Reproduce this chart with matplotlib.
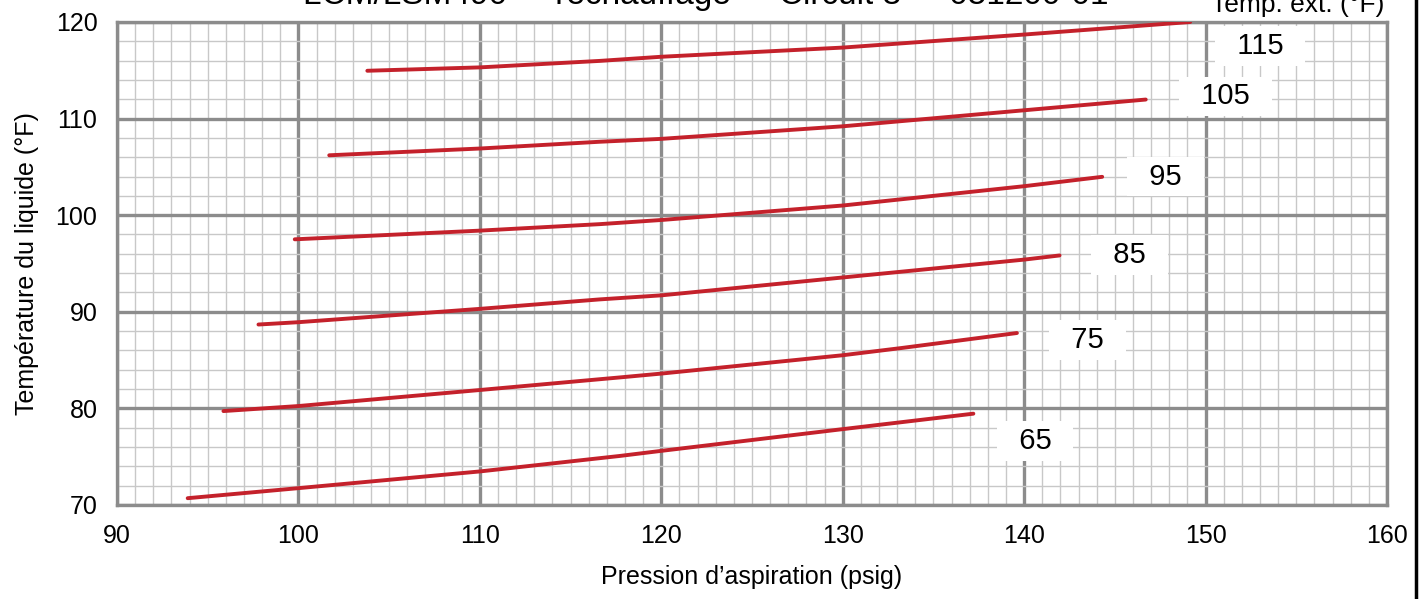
import matplotlib.pyplot as plt
from matplotlib.ticker import MultipleLocator

plt.rcParams['font.family'] = ['Liberation Sans', 'DejaVu Sans']

# outdoor temperature curves: suction pressure (psig) vs liquid temperature (°F)
p_65 = [93.9, 100, 110, 117.7, 120, 130, 137.2]
t_65 = [70.7, 71.74, 73.47, 75.07, 75.6, 77.85, 79.45]

p_75 = [95.87, 100, 110, 117.7, 120, 130, 133.25, 139.6]
t_75 = [79.72, 80.24, 81.9, 83.2, 83.6, 85.5, 86.25, 87.8]

p_85 = [97.8, 100, 110, 116.6, 120, 130, 140, 141.95]
t_85 = [88.68, 88.92, 90.3, 91.28, 91.7, 93.55, 95.4, 95.83]

p_95 = [99.8, 110, 116.6, 120, 130, 140, 144.3]
t_95 = [97.5, 98.4, 99.07, 99.5, 101.0, 103.0, 103.97]

p_105 = [101.7, 110, 116.6, 120, 130, 140, 146.7]
t_105 = [106.2, 106.9, 107.6, 107.9, 109.2, 110.86, 111.97]

p_115 = [103.8, 110, 116.6, 120, 130, 140, 149.15]
t_115 = [114.95, 115.3, 115.97, 116.4, 117.35, 118.7, 120.0]

curves = [(p_65, t_65), (p_75, t_75), (p_85, t_85),
          (p_95, t_95), (p_105, t_105), (p_115, t_115)]

labels = ['65', '75', '85', '95', '105', '115']
label_x = [140.6, 143.5, 145.8, 147.8, 151.1, 153.0]
label_y = [76.6, 87.1, 95.9, 104.0, 112.3, 117.5]

title = 'LCM/LSM490  -  réchauffage  -  Circuit 3  -  051200-01'

fig = plt.figure(figsize=(14.26, 5.99), dpi=100)
ax = fig.add_axes([0.082, 0.157, 0.8907, 0.8063])

ax.set_xlim(90, 160)
ax.set_ylim(70, 120)
ax.xaxis.set_major_locator(MultipleLocator(10))
ax.xaxis.set_minor_locator(MultipleLocator(1))
ax.yaxis.set_major_locator(MultipleLocator(10))
ax.yaxis.set_minor_locator(MultipleLocator(2))

ax.grid(which='minor', color='#c8c8c8', lw=1.0)
ax.grid(which='major', color='#8c8c8c', lw=2.4)
ax.set_axisbelow(True)
for s in ax.spines.values():
    s.set_color('#8c8c8c')
    s.set_linewidth(2.4)
ax.tick_params(which='both', length=0, labelsize=18)
ax.tick_params(axis='x', pad=14)
ax.tick_params(axis='y', pad=14)

for p, t in curves:
    ax.plot(p, t, color='#c4212b', lw=2.8, solid_capstyle='round', zorder=3)

for lab, x, y in zip(labels, label_x, label_y):
    ax.text(x, y, '  ' + lab + '  ', fontsize=21, ha='center', va='center',
            bbox=dict(boxstyle='square,pad=0.2', fc='white', ec='none'), zorder=4)

ax.set_xlabel('Pression d\u2019aspiration (psig)', fontsize=18, labelpad=12)
ax.set_ylabel('Température du liquide (°F)', fontsize=18, labelpad=12)

fig.text(0.495, 1 - 4 / 599, title, fontsize=24, ha='center', va='baseline')
fig.text(0.971, 1 - 12 / 599, 'Temp. ext. (°F)', fontsize=19, ha='right', va='baseline')

fig.add_artist(plt.Line2D([0.993, 0.993], [0, 1], color='black', lw=2.5,
                          transform=fig.transFigure))

fig.savefig('out.png', dpi=100)
